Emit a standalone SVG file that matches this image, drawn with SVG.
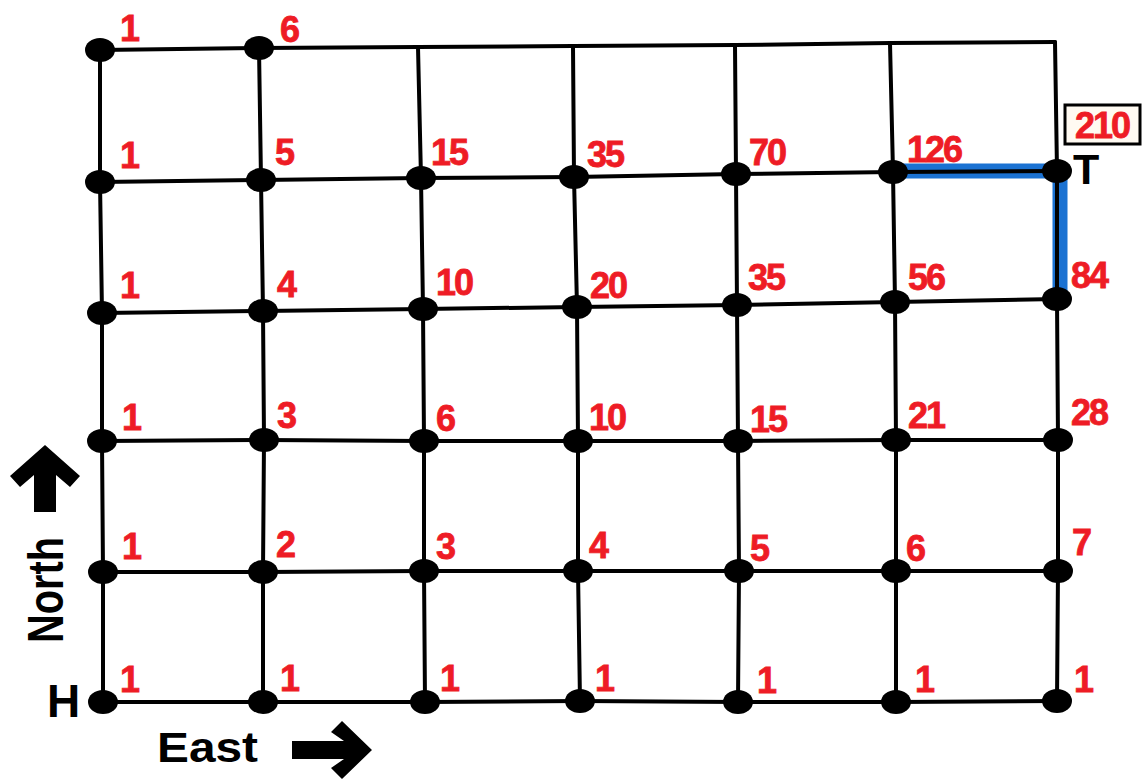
<svg xmlns="http://www.w3.org/2000/svg" width="1144" height="779" viewBox="0 0 1144 779">
<style>
.ln{fill:none;stroke:#000;stroke-width:4;stroke-linejoin:round;stroke-linecap:round}
.num{font-family:"Liberation Sans",Arial,sans-serif;font-weight:bold;font-size:36px;fill:#ee1c25;stroke:#ee1c25;stroke-width:0.8;letter-spacing:-2px}
.lbl{font-family:"Liberation Sans",Arial,sans-serif;font-weight:bold;fill:#000}
</style>
<defs>
<ellipse id="d" cx="0" cy="0" rx="15" ry="12"/>
</defs>
<rect width="1144" height="779" fill="#fff"/>
<g id="path-highlight">
<polyline points="900,171 1060,171 1060,292" fill="none" stroke="#1b72d2" stroke-width="15"/>
</g>
<g id="connectors">
<polyline class="ln" points="100,50 259,48 418,47 573,46 735,45 890,43 1055,42"/>
<polyline class="ln" points="100,182 261,180 421,178 574,177 736,174 893,172 1057,171"/>
<polyline class="ln" points="102,313 263,311 423,309 577,307 737,305 895,302 1057,299"/>
<polyline class="ln" points="102,441 264,440 424,441 578,441 738,441 896,440 1058,440"/>
<polyline class="ln" points="103,572 263,572 424,571 578,571 739,571 896,571 1058,571"/>
<polyline class="ln" points="103,702 263,702 425,702 580,701 738,702 896,702 1057,701"/>
<polyline class="ln" points="100,50 100,182 102,313 102,441 103,572 103,702"/>
<polyline class="ln" points="259,48 261,180 263,311 264,440 263,572 263,702"/>
<polyline class="ln" points="418,47 421,178 423,309 424,441 424,571 425,702"/>
<polyline class="ln" points="573,46 574,177 577,307 578,441 578,571 580,701"/>
<polyline class="ln" points="735,45 736,174 737,305 738,441 739,571 738,702"/>
<polyline class="ln" points="890,43 893,172 895,302 896,440 896,571 896,702"/>
<polyline class="ln" points="1055,42 1057,171 1057,299 1058,440 1058,571 1057,701"/>
</g>
<g id="n-0-5"><use href="#d" x="100" y="50"/><text class="num" x="120" y="41">1</text></g>
<g id="n-1-5"><use href="#d" x="259" y="48"/><text class="num" x="280" y="42">6</text></g>
<g id="n-0-4"><use href="#d" x="100" y="182"/><text class="num" x="120" y="168">1</text></g>
<g id="n-1-4"><use href="#d" x="261" y="180"/><text class="num" x="275" y="165">5</text></g>
<g id="n-2-4"><use href="#d" x="421" y="178"/><text class="num" x="431" y="165">15</text></g>
<g id="n-3-4"><use href="#d" x="574" y="177"/><text class="num" x="587" y="167">35</text></g>
<g id="n-4-4"><use href="#d" x="736" y="174"/><text class="num" x="749" y="165">70</text></g>
<g id="n-5-4"><use href="#d" x="893" y="172"/><text class="num" x="907" y="162">126</text></g>
<g id="n-6-4"><use href="#d" x="1057" y="171"/><text class="lbl" x="1073" y="184" font-size="43">T</text></g>
<g id="total"><rect x="1065" y="105" width="75" height="39" fill="#fffaf2" stroke="#000" stroke-width="3"/><text class="num" x="1075" y="138">210</text></g>
<g id="n-0-3"><use href="#d" x="102" y="313"/><text class="num" x="120" y="298">1</text></g>
<g id="n-1-3"><use href="#d" x="263" y="311"/><text class="num" x="277" y="297">4</text></g>
<g id="n-2-3"><use href="#d" x="423" y="309"/><text class="num" x="436" y="295">10</text></g>
<g id="n-3-3"><use href="#d" x="577" y="307"/><text class="num" x="590" y="298">20</text></g>
<g id="n-4-3"><use href="#d" x="737" y="305"/><text class="num" x="748" y="290">35</text></g>
<g id="n-5-3"><use href="#d" x="895" y="302"/><text class="num" x="908" y="290">56</text></g>
<g id="n-6-3"><use href="#d" x="1057" y="299"/><text class="num" x="1071" y="288">84</text></g>
<g id="n-0-2"><use href="#d" x="102" y="441"/><text class="num" x="122" y="430">1</text></g>
<g id="n-1-2"><use href="#d" x="264" y="440"/><text class="num" x="277" y="428">3</text></g>
<g id="n-2-2"><use href="#d" x="424" y="441"/><text class="num" x="436" y="431">6</text></g>
<g id="n-3-2"><use href="#d" x="578" y="441"/><text class="num" x="589" y="430">10</text></g>
<g id="n-4-2"><use href="#d" x="738" y="441"/><text class="num" x="750" y="432">15</text></g>
<g id="n-5-2"><use href="#d" x="896" y="440"/><text class="num" x="908" y="428">21</text></g>
<g id="n-6-2"><use href="#d" x="1058" y="440"/><text class="num" x="1071" y="425">28</text></g>
<g id="n-0-1"><use href="#d" x="103" y="572"/><text class="num" x="122" y="559">1</text></g>
<g id="n-1-1"><use href="#d" x="263" y="572"/><text class="num" x="276" y="557">2</text></g>
<g id="n-2-1"><use href="#d" x="424" y="571"/><text class="num" x="436" y="559">3</text></g>
<g id="n-3-1"><use href="#d" x="578" y="571"/><text class="num" x="589" y="558">4</text></g>
<g id="n-4-1"><use href="#d" x="739" y="571"/><text class="num" x="750" y="561">5</text></g>
<g id="n-5-1"><use href="#d" x="896" y="571"/><text class="num" x="906" y="561">6</text></g>
<g id="n-6-1"><use href="#d" x="1058" y="571"/><text class="num" x="1072" y="555">7</text></g>
<g id="n-0-0"><use href="#d" x="103" y="702"/><text class="num" x="120" y="692">1</text><text class="lbl" x="47" y="717" font-size="46">H</text></g>
<g id="n-1-0"><use href="#d" x="263" y="702"/><text class="num" x="280" y="691">1</text></g>
<g id="n-2-0"><use href="#d" x="425" y="702"/><text class="num" x="440" y="691">1</text></g>
<g id="n-3-0"><use href="#d" x="580" y="701"/><text class="num" x="595" y="691">1</text></g>
<g id="n-4-0"><use href="#d" x="738" y="702"/><text class="num" x="757" y="693">1</text></g>
<g id="n-5-0"><use href="#d" x="896" y="702"/><text class="num" x="915" y="692">1</text></g>
<g id="n-6-0"><use href="#d" x="1057" y="701"/><text class="num" x="1074" y="692">1</text></g>
<g id="north">
<polygon points="45,445 80,476 70,487 56,475 56,512 34,512 34,475 20,487 10,476" fill="#000"/>
<text class="lbl" transform="translate(63,643) rotate(-90)" font-size="50" textLength="106" lengthAdjust="spacingAndGlyphs">North</text>
</g>
<g id="east">
<text class="lbl" x="157" y="762" font-size="42" textLength="101" lengthAdjust="spacingAndGlyphs">East</text>
<polygon points="372,750 342,779 331,768 344,759 292,759 292,741 344,741 331,732 342,721" fill="#000"/>
</g>
</svg>
